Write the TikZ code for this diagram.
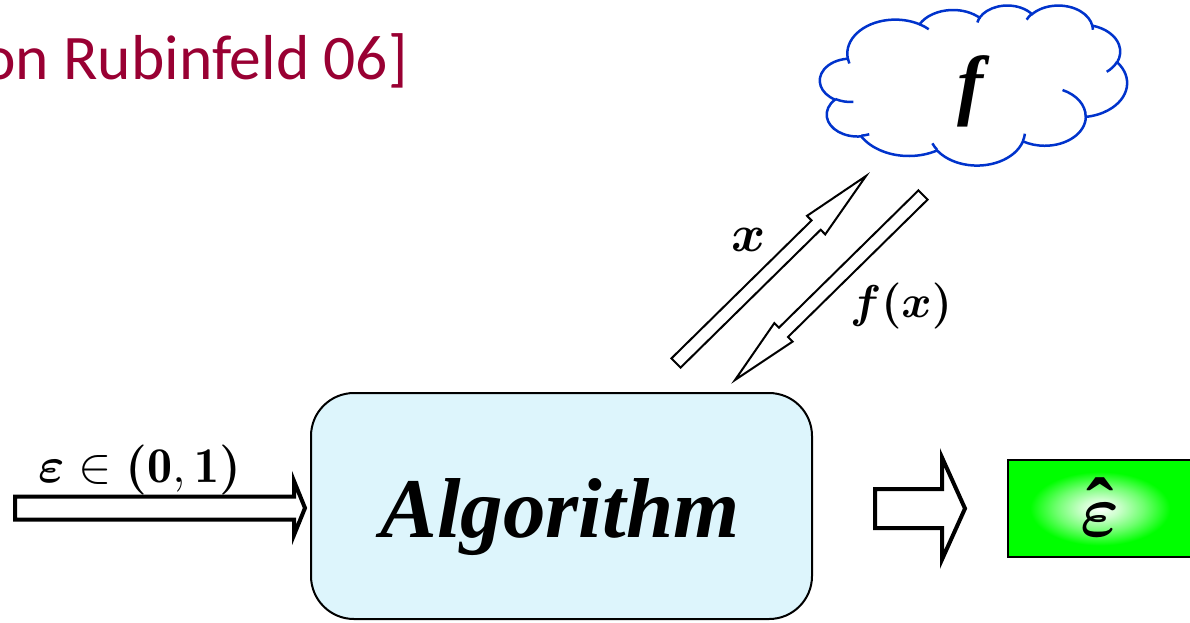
\documentclass[tikz,border=0pt]{standalone}
\usepackage{fix-cm}
\usepackage{amsmath,bm}
\usepackage{fontspec}
\newfontfamily\calfont{Carlito}
\newfontfamily\timesfont{Liberation Serif}
\usetikzlibrary{calc}
\definecolor{citered}{RGB}{153,0,51}
\definecolor{cloudblue}{RGB}{0,51,204}
\definecolor{algfill}{RGB}{221,245,252}
\definecolor{glowa}{RGB}{205,255,205}
\definecolor{glowb}{RGB}{110,255,110}
\pgfdeclareradialshading{greenglow}{\pgfpoint{0bp}{0bp}}{color(0bp)=(white); color(5bp)=(glowa); color(12bp)=(glowb); color(19bp)=(green); color(50bp)=(green)}
\newcommand\blockarr[6]{%
  \coordinate (bahead) at ($(#3)!#6!(#2)$);
  \draw[#1] ($(#2)!#4!90:(#3)$) -- ($(bahead)!#4!90:(#3)$) -- ($(bahead)!#5!90:(#3)$) -- (#3)
    -- ($(bahead)!#5!-90:(#3)$) -- ($(bahead)!#4!-90:(#3)$) -- ($(#2)!#4!-90:(#3)$) -- cycle;
}
\def\cldk{1}
\newcommand\cldset[6]{%
  \pgfmathsetmacro\cta{atan2(#3*\cldk*sin(#5), #4*cos(#5))}%
  \pgfmathsetmacro\ctb{atan2(#3*\cldk*sin(#5+#6), #4*cos(#5+#6))}%
  \pgfmathsetmacro\ctd{\ctb-\cta}%
  \pgfmathsetmacro\ctd{\ctd<0 ? \ctd+360 : \ctd}%
  \xdef#1{\cta}\xdef#2{\ctd}%
}
\tikzset{
  blockarrow/.style={draw=black, fill=white, line width=2pt, line join=miter},
  bigarrow/.style={draw=black, fill=white, line width=4pt, line join=miter},
  cloudline/.style={draw=cloudblue, line width=2.5pt},
  algbox/.style={draw=black, line width=2pt, fill=algfill, rounded corners=43pt,
    minimum width=501pt, minimum height=226pt, inner sep=0pt},
  outbox/.style={draw=black, line width=2pt, shade, shading=greenglow,
    minimum width=184pt, minimum height=97pt, inner sep=0pt},
  lbl/.style={inner sep=0pt}
}
\begin{document}
\cldset\cloudSa\cloudDa{6.753}{9.190}{-190.4875}{123.7805}
\cldset\cloudSb\cloudDb{5.333}{7.267}{-144.1024}{89.9452}
\cldset\cloudSc\cloudDc{4.365}{5.945}{-145.8079}{99.7230}
\cldset\cloudSd\cloudDd{4.857}{6.595}{-130.9861}{117.2417}
\cldset\cloudSe\cloudDe{5.333}{7.273}{-78.7089}{109.0269}
\cldset\cloudSf\cloudDf{6.775}{9.220}{-46.2673}{130.2690}
\cldset\cloudSg\cloudDg{5.785}{7.867}{0.6250}{114.0333}
\cldset\cloudSh\cloudDh{6.752}{9.215}{22.4516}{115.1726}
\cldset\cloudSi\cloudDi{7.720}{10.543}{66.2426}{75.7110}
\cldset\cloudSj\cloudDj{4.360}{5.918}{-274.9421}{146.7356}
\cldset\cloudSk\cloudDk{4.345}{5.945}{-246.8285}{152.5189}
\cldset\innerSa\innerDa{4.345}{5.945}{86.7420}{26.4295}
\cldset\innerSb\innerDb{4.360}{5.918}{73.6105}{11.4475}
\cldset\innerSc\innerDc{6.752}{9.215}{137.6242}{14.0811}
\cldset\innerSd\innerDd{6.752}{9.215}{6.4533}{15.9984}
\cldset\innerSe\innerDe{5.785}{7.867}{-70.2924}{70.9174}
\cldset\innerSf\innerDf{5.333}{7.273}{30.3180}{27.7515}
\cldset\innerSg\innerDg{4.857}{6.595}{-13.7443}{14.8589}
\cldset\innerSh\innerDh{4.857}{6.595}{-149.1815}{18.1954}
\cldset\innerSi\innerDi{4.365}{5.945}{-163.4943}{17.6864}
\cldset\innerSj\innerDj{6.753}{9.190}{-66.7070}{12.3194}
\cldset\innerSk\innerDk{6.753}{9.190}{157.6544}{11.8582}%
\begin{tikzpicture}[x=1pt, y=-1pt]
\useasboundingbox (0,0) rectangle (1190,622);
\clip (0,0) rectangle (1190,622);

% citation
\node[lbl, anchor=base east, text=citered, font=\calfont\fontsize{63.5}{76}\selectfont] (cite) at (408,79) {on Rubinfeld 06]};

% cloud
\begin{scope}[shift={(820,5)}, x={(7.1065pt,0pt)}, y={(0pt,-3.7037pt)}]
\draw[cloudline, fill=white] (3.9,14.37)
  arc[start angle=\cloudSa, delta angle=\cloudDa, x radius=6.753, y radius=9.190]
  arc[start angle=\cloudSb, delta angle=\cloudDb, x radius=5.333, y radius=7.267]
  arc[start angle=\cloudSc, delta angle=\cloudDc, x radius=4.365, y radius=5.945]
  arc[start angle=\cloudSd, delta angle=\cloudDd, x radius=4.857, y radius=6.595]
  arc[start angle=\cloudSe, delta angle=\cloudDe, x radius=5.333, y radius=7.273]
  arc[start angle=\cloudSf, delta angle=\cloudDf, x radius=6.775, y radius=9.220]
  arc[start angle=\cloudSg, delta angle=\cloudDg, x radius=5.785, y radius=7.867]
  arc[start angle=\cloudSh, delta angle=\cloudDh, x radius=6.752, y radius=9.215]
  arc[start angle=\cloudSi, delta angle=\cloudDi, x radius=7.720, y radius=10.543]
  arc[start angle=\cloudSj, delta angle=\cloudDj, x radius=4.360, y radius=5.918]
  arc[start angle=\cloudSk, delta angle=\cloudDk, x radius=4.345, y radius=5.945] -- cycle;
\draw[cloudline] (4.693,26.177) arc[start angle=\innerSa, delta angle=\innerDa, x radius=4.345, y radius=5.945];
\draw[cloudline] (6.928,34.899) arc[start angle=\innerSb, delta angle=\innerDb, x radius=4.360, y radius=5.918];
\draw[cloudline] (16.478,39.090) arc[start angle=\innerSc, delta angle=\innerDc, x radius=6.752, y radius=9.215];
\draw[cloudline] (28.827,34.751) arc[start angle=\innerSd, delta angle=\innerDd, x radius=6.752, y radius=9.215];
\draw[cloudline] (34.129,22.954) arc[start angle=\innerSe, delta angle=\innerDe, x radius=5.785, y radius=7.867];
\draw[cloudline] (41.798,15.354) arc[start angle=\innerSf, delta angle=\innerDf, x radius=5.333, y radius=7.273];
\draw[cloudline] (38.324,5.426) arc[start angle=\innerSg, delta angle=\innerDg, x radius=4.857, y radius=6.595];
\draw[cloudline] (29.078,3.952) arc[start angle=\innerSh, delta angle=\innerDh, x radius=4.857, y radius=6.595];
\draw[cloudline] (22.141,4.720) arc[start angle=\innerSi, delta angle=\innerDi, x radius=4.365, y radius=5.945];
\draw[cloudline] (14.000,5.192) arc[start angle=\innerSj, delta angle=\innerDj, x radius=6.753, y radius=9.190];
\draw[cloudline] (4.127,15.789) arc[start angle=\innerSk, delta angle=\innerDk, x radius=6.753, y radius=9.190];
\end{scope}
\node[lbl, font=\timesfont\bfseries\itshape\fontsize{78}{90}\selectfont] (fcloud) at (970,91) {f};

% algorithm box
\node[algbox] (alg) at (561.5,506) {};
\node[lbl, anchor=base, font=\timesfont\bfseries\itshape\fontsize{85}{100}\selectfont] (algtext) at (560,537) {Algorithm};

% output box
\node[outbox] (out) at (1100,508.5) {};
\node[lbl, anchor=base] (epshat) at (1100,536) {\makebox[0pt][c]{\fontsize{74}{88}\selectfont$\bm{\varepsilon}$}\makebox[0pt][c]{\timesfont\bfseries\fontsize{82}{96}\selectfont\raisebox{1pt}{ˆ}}};

% arrows
\coordinate (epsTail) at (15,508);
\coordinate (epsTip) at (305,508);
\coordinate (outTail) at (875,508.5);
\coordinate (outTip) at (965,508.5);
\coordinate (xTail) at (676,363);
\coordinate (xTip) at (866,176);
\coordinate (fxTail) at (923,195);
\coordinate (fxTip) at (735,380);
\blockarr{bigarrow}{epsTail}{epsTip}{11.5pt}{27pt}{11pt}
\blockarr{bigarrow}{outTail}{outTip}{19.5pt}{51pt}{23pt}
\blockarr{blockarrow}{xTail}{xTip}{6.5pt}{13pt}{70pt}
\blockarr{blockarrow}{fxTail}{fxTip}{6.5pt}{13pt}{68pt}

% labels
\node[lbl, font=\fontsize{50}{60}\selectfont] (epslab) at (140,470) {$\bm{\varepsilon}\in\bm{(}\mathbf{0},\mathbf{1}\bm{)}$};
\node[lbl, font=\fontsize{52}{62}\selectfont] (xlab) at (749,240) {$\bm{x}$};
\node[lbl, font=\fontsize{46}{55}\selectfont] (fxlab) at (901,306) {$\bm{f}\bm{(}\bm{x}\bm{)}$};
\end{tikzpicture}
\end{document}
